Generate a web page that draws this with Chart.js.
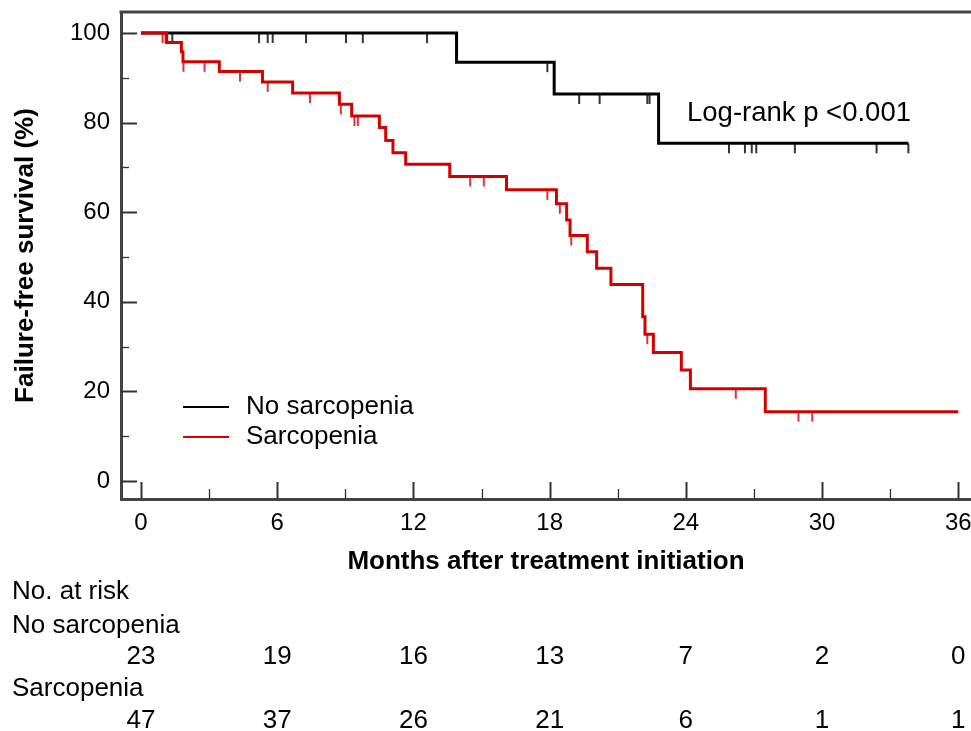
<!DOCTYPE html>
<html>
<head>
<meta charset="utf-8">
<script src="https://cdn.jsdelivr.net/npm/chart.js@4.4.1/dist/chart.umd.min.js"></script>
<style>
  html, body { margin: 0; padding: 0; background: #fff; }
</style>
</head>
<body>
<canvas id="km" width="971" height="731"></canvas>
<script>
// Kaplan-Meier steps (months, % failure-free)
const noSarcTimes = [0, 13.9, 18.2, 22.8, 33.8]
const noSarcSurv = [100, 93.5, 86.4, 75.4, 75.4]
const noSarcCensor = [1.38, 5.2, 5.58, 5.8, 7.27, 9.03, 9.77, 12.6, 17.9, 19.3, 20.2, 22.3, 22.4, 25.9, 26.6, 26.9, 27.1, 28.8, 32.4, 33.8]

const sarcTimes = [0, 1.13, 1.78, 1.85, 3.45, 5.35, 6.68, 8.74, 9.28, 10.5, 10.78, 11.1, 11.66, 13.6, 16.1, 18.3, 18.75, 18.9, 19.66, 20.07, 20.7, 22.1, 22.2, 22.57, 23.8, 24.2, 27.5, 36.0]
const sarcSurv = [100, 97.9, 95.8, 93.6, 91.4, 89.1, 86.6, 84.1, 81.5, 78.9, 76.0, 73.3, 70.7, 68.0, 65.0, 61.9, 58.3, 54.8, 51.2, 47.5, 43.9, 36.7, 32.8, 28.7, 24.8, 20.6, 15.5, 15.5]
const sarcCensor = [0.95, 1.08, 1.87, 2.8, 4.36, 5.58, 7.44, 8.8, 9.4, 9.55, 14.5, 15.1, 17.9, 18.45, 18.95, 22.3, 26.2, 28.96, 29.57]

const xTicks = [0, 3, 6, 9, 12, 15, 18, 21, 24, 27, 30, 33, 36]
const yTicks = [0, 10, 20, 30, 40, 50, 60, 70, 80, 90, 100]

const riskTimes = [0, 6, 12, 18, 24, 30, 36]
const riskNoSarc = [23, 19, 16, 13, 7, 2, 0]
const riskSarc = [47, 37, 26, 21, 6, 1, 1]

const BLACK = '#000000'
const RED = '#d40000'
const AXIS = '#444444'
const FONT = '"Liberation Sans", Arial, sans-serif'

Chart.defaults.font.family = FONT
Chart.defaults.color = '#000'

const steps = (times, surv) => times.map((t, i) => ({ x: t, y: surv[i] }))

// value of the step curve at time t
const levelAt = (times, surv, t) => {
    let v = surv[0]
    times.forEach((tt, i) => { if (tt <= t) v = surv[i] })
    return v
}

const censorMarks = (times, surv, cens) => cens.map(t => ({ x: t, y: levelAt(times, surv, t) }))

// small vertical tick hanging below the point
const tickImg = color => {
    let c = document.createElement('canvas')
    c.width = 4
    c.height = 22
    let g = c.getContext('2d')
    g.strokeStyle = color
    g.lineWidth = 1.6
    g.beginPath()
    g.moveTo(2, 11)
    g.lineTo(2, 21)
    g.stroke()
    return c
}

const extras = {
    id: 'extras',
    afterDraw(chart) {
        let ctx = chart.ctx
        let { left, right, top } = chart.chartArea
        let xs = chart.scales.x
        let ys = chart.scales.y

        ctx.save()
        // top frame line
        ctx.strokeStyle = AXIS
        ctx.lineWidth = 3
        ctx.beginPath()
        ctx.moveTo(left - 1.5, top)
        ctx.lineTo(right, top)
        ctx.stroke()

        // inward tick marks
        ctx.strokeStyle = '#333'
        xTicks.forEach(v => {
            let px = Math.round(xs.getPixelForValue(v)) + 0.5
            let major = v % 6 === 0
            ctx.lineWidth = major ? 2 : 1.3
            ctx.beginPath()
            ctx.moveTo(px, xs.top)
            ctx.lineTo(px, xs.top - (major ? 17 : 10))
            ctx.stroke()
        })
        yTicks.forEach(v => {
            let py = Math.round(ys.getPixelForValue(v)) + 0.5
            let major = v % 20 === 0
            ctx.lineWidth = major ? 2 : 1.3
            ctx.beginPath()
            ctx.moveTo(ys.right, py)
            ctx.lineTo(ys.right + (major ? 16 : 8), py)
            ctx.stroke()
        })

        // legend
        ctx.font = '26px ' + FONT
        ctx.textBaseline = 'middle'
        ctx.textAlign = 'left'
        let leg = [[chart.data.datasets[2].label, BLACK, 407], [chart.data.datasets[0].label, RED, 437]]
        leg.forEach(([label, color, y]) => {
            ctx.strokeStyle = color
            ctx.lineWidth = 2
            ctx.beginPath()
            ctx.moveTo(183, y)
            ctx.lineTo(229, y)
            ctx.stroke()
            ctx.fillStyle = '#000'
            ctx.fillText(label, 246, y)
        })

        // log-rank annotation
        ctx.font = '27.5px ' + FONT
        ctx.fillText('Log-rank p <0.001', 687, 113)

        // number at risk table
        ctx.font = '26px ' + FONT
        ctx.fillText('No. at risk', 12, 592)
        ctx.fillText('No sarcopenia', 12, 626)
        ctx.fillText('Sarcopenia', 12, 689)
        ctx.textAlign = 'center'
        riskTimes.forEach((t, i) => {
            let px = xs.getPixelForValue(t)
            ctx.fillText(String(riskNoSarc[i]), px, 657)
            ctx.fillText(String(riskSarc[i]), px, 721)
        })
        ctx.restore()
    }
}

let ctx = document.getElementById('km').getContext('2d')
let myChart = new Chart(ctx, {
    type: 'line',
    data: {
        datasets: [{
            label: 'Sarcopenia',
            data: steps(sarcTimes, sarcSurv),
            borderColor: RED,
            borderWidth: 3,
            stepped: true,
            pointRadius: 0,
            fill: false,
            order: 0
        }, {
            label: 'Sarcopenia censored',
            data: censorMarks(sarcTimes, sarcSurv, sarcCensor),
            showLine: false,
            pointStyle: tickImg(RED),
            pointRadius: 5,
            order: 1
        }, {
            label: 'No sarcopenia',
            data: steps(noSarcTimes, noSarcSurv),
            borderColor: BLACK,
            borderWidth: 3,
            stepped: true,
            pointRadius: 0,
            fill: false,
            order: 2
        }, {
            label: 'No sarcopenia censored',
            data: censorMarks(noSarcTimes, noSarcSurv, noSarcCensor),
            showLine: false,
            pointStyle: tickImg(BLACK),
            pointRadius: 5,
            order: 3
        }]
    },
    options: {
        responsive: false,
        animation: false,
        layout: { autoPadding: false, padding: { top: 12, right: 0, left: 0, bottom: 154 } },
        plugins: {
            legend: { display: false },
            tooltip: { enabled: false }
        },
        scales: {
            x: {
                type: 'linear',
                min: -0.88,
                max: 36.56,
                grid: { display: false },
                border: { display: true, color: AXIS, width: 3 },
                afterBuildTicks: s => { s.ticks = xTicks.map(v => ({ value: v })) },
                afterFit: s => { s.height = 78; s.paddingLeft = 0; s.paddingRight = 0 },
                ticks: {
                    autoSkip: false,
                    maxRotation: 0,
                    padding: 2,
                    font: { size: 24 },
                    color: '#000',
                    callback: v => v % 6 === 0 ? String(v) : ''
                },
                title: {
                    display: true,
                    text: 'Months after treatment initiation',
                    font: { size: 26, weight: 'bold' },
                    color: '#000',
                    padding: { top: 0, bottom: 0 }
                }
            },
            y: {
                type: 'linear',
                min: -4,
                max: 104.7,
                grid: { display: false },
                border: { display: true, color: AXIS, width: 3 },
                afterBuildTicks: s => { s.ticks = yTicks.map(v => ({ value: v })) },
                afterFit: s => { s.width = 121; s.paddingTop = 0; s.paddingBottom = 0 },
                ticks: {
                    autoSkip: false,
                    padding: 3,
                    font: { size: 24 },
                    color: '#000',
                    callback: v => v % 20 === 0 ? String(v) : ''
                },
                title: {
                    display: true,
                    text: 'Failure-free survival (%)',
                    font: { size: 26, weight: 'bold' },
                    color: '#000',
                    padding: { top: 10, bottom: 0 }
                }
            }
        }
    },
    plugins: [extras]
})
</script>
</body>
</html>
